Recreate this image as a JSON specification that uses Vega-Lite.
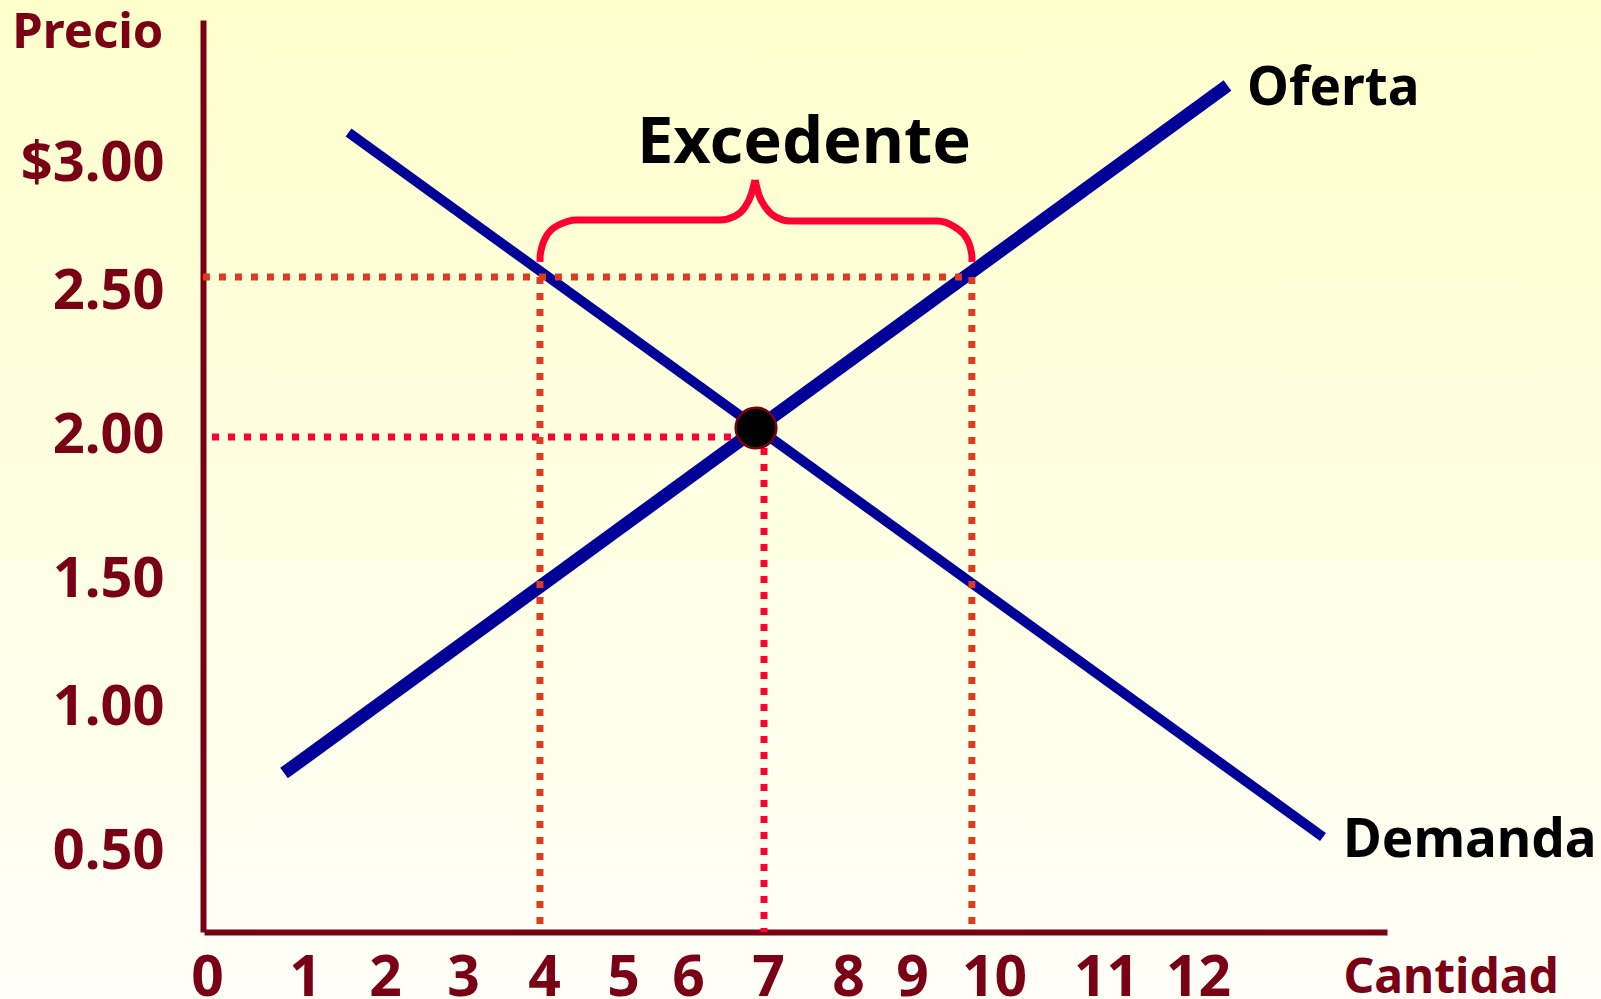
{
  "$schema": "https://vega.github.io/schema/vega-lite/v6.json",
  "width": 1601,
  "height": 999,
  "padding": 0,
  "autosize": {"type": "none"},
  "background": "#ffffe6",
  "view": {
    "stroke": null,
    "fill": {
      "gradient": "linear",
      "x1": 0, "y1": 0, "x2": 0, "y2": 1,
      "stops": [
        {"offset": 0, "color": "#ffffcc"},
        {"offset": 1, "color": "#fffff8"}
      ]
    }
  },
  "datasets": {
    "curvas": [
      {"curva": "Oferta", "q": 0.786, "p": 0.76},
      {"curva": "Oferta", "q": 12.317, "p": 3.266},
      {"curva": "Demanda", "q": 1.544, "p": 3.098},
      {"curva": "Demanda", "q": 13.344, "p": 0.538}
    ],
    "guias": [
      {"tipo": "excedente", "q": -0.041, "q2": 9.62, "p": 2.543, "p2": 2.543},
      {"tipo": "equilibrio", "q": 0.051, "q2": 6.85, "p": 1.983, "p2": 1.983},
      {"tipo": "excedente", "q": 3.95, "q2": 3.95, "p": 2.543, "p2": 0},
      {"tipo": "equilibrio", "q": 6.95, "q2": 6.95, "p": 2.0, "p2": 0},
      {"tipo": "excedente", "q": 9.73, "q2": 9.73, "p": 2.543, "p2": 0}
    ],
    "llave": [
      {"lado": "a", "n": 1, "q": 3.951, "p": 2.602},
      {"lado": "a", "n": 2, "q": 3.953, "p": 2.628},
      {"lado": "a", "n": 3, "q": 4.013, "p": 2.693},
      {"lado": "a", "n": 4, "q": 4.184, "p": 2.746},
      {"lado": "a", "n": 5, "q": 4.418, "p": 2.766},
      {"lado": "a", "n": 6, "q": 6.4, "p": 2.766},
      {"lado": "a", "n": 7, "q": 6.5875, "p": 2.781},
      {"lado": "a", "n": 8, "q": 6.7125, "p": 2.816},
      {"lado": "a", "n": 9, "q": 6.7875, "p": 2.863},
      {"lado": "a", "n": 10, "q": 6.8375, "p": 2.922},
      {"lado": "b", "n": 1, "q": 6.8375, "p": 2.922},
      {"lado": "b", "n": 2, "q": 6.8875, "p": 2.863},
      {"lado": "b", "n": 3, "q": 6.975, "p": 2.8125},
      {"lado": "b", "n": 4, "q": 7.1, "p": 2.777},
      {"lado": "b", "n": 5, "q": 7.275, "p": 2.762},
      {"lado": "b", "n": 6, "q": 9.305, "p": 2.762},
      {"lado": "b", "n": 7, "q": 9.518, "p": 2.739},
      {"lado": "b", "n": 8, "q": 9.674, "p": 2.689},
      {"lado": "b", "n": 9, "q": 9.73, "p": 2.628},
      {"lado": "b", "n": 10, "q": 9.732, "p": 2.602}
    ],
    "etiquetas": [
      {"texto": "Oferta", "q": 12.527, "p": 3.196},
      {"texto": "Demanda", "q": 13.559, "p": 0.446}
    ],
    "titulo": [
      {"texto": "Excedente", "q": 7.45, "p": 2.988}
    ],
    "equilibrio": [
      {"q": 6.85, "p": 2.014}
    ]
  },
  "encoding": {
    "x": {
      "field": "q",
      "type": "quantitative",
      "scale": {
        "domain": [0, 1, 2, 3, 4, 5, 6, 7, 8, 9, 10, 11, 12, 14],
        "range": [207, 305, 385, 463, 544, 623, 688, 768, 848, 912, 994, 1106, 1198, 1384],
        "nice": false,
        "zero": false
      },
      "axis": {
        "orient": "bottom",
        "offset": -67,
        "values": [0, 1, 2, 3, 4, 5, 6, 7, 8, 9, 10, 11, 12],
        "format": "d",
        "grid": false,
        "ticks": false,
        "tickSize": 0,
        "domainColor": "#7a0016",
        "domainWidth": 6,
        "domainCap": "square",
        "labelFont": "Noto Sans",
        "labelFontWeight": "bold",
        "labelFontSize": 57,
        "labelColor": "#7a0016",
        "labelAlign": "center",
        "labelBaseline": "alphabetic",
        "labelPadding": 63,
        "labelFlush": false,
        "labelOverlap": false,
        "labelBound": false,
        "title": "Cantidad",
        "titleFont": "Noto Sans",
        "titleFontWeight": "bold",
        "titleFontSize": 48,
        "titleColor": "#7a0016",
        "titleAlign": "left",
        "titleBaseline": "alphabetic",
        "titleAnchor": null,
        "titleX": 1343,
        "titleY": 60
      }
    },
    "y": {
      "field": "p",
      "type": "quantitative",
      "scale": {
        "domain": [0, 0.5, 1, 1.5, 2, 2.5, 3, 3.5],
        "range": [932, 848, 704, 576, 432, 288, 160, 20],
        "nice": false,
        "zero": false
      },
      "axis": {
        "orient": "left",
        "offset": -203,
        "values": [0.5, 1, 1.5, 2, 2.5, 3],
        "labelExpr": "datum.value == 3 ? '$3.00' : format(datum.value, '.2f')",
        "grid": false,
        "ticks": false,
        "tickSize": 0,
        "domainColor": "#7a0016",
        "domainWidth": 6,
        "domainCap": "butt",
        "labelFont": "Noto Sans",
        "labelFontWeight": "bold",
        "labelFontSize": 56,
        "labelColor": "#7a0016",
        "labelAlign": "right",
        "labelBaseline": "middle",
        "labelOffset": 3,
        "labelPadding": 39,
        "labelFlush": false,
        "labelOverlap": false,
        "labelBound": false,
        "title": "Precio",
        "titleFont": "Noto Sans",
        "titleFontWeight": "bold",
        "titleFontSize": 49,
        "titleColor": "#7a0016",
        "titleAngle": 0,
        "titleAlign": "right",
        "titleBaseline": "alphabetic",
        "titleAnchor": null,
        "titleX": -40,
        "titleY": 47
      }
    }
  },
  "layer": [
    {
      "data": {"name": "curvas"},
      "transform": [{"filter": "datum.curva == 'Demanda'"}],
      "mark": {"type": "line", "color": "#000099", "strokeWidth": 10, "strokeCap": "butt"},
      "encoding": {"detail": {"field": "curva"}}
    },
    {
      "data": {"name": "curvas"},
      "transform": [{"filter": "datum.curva == 'Oferta'"}],
      "mark": {"type": "line", "color": "#000099", "strokeWidth": 13, "strokeCap": "butt"},
      "encoding": {"detail": {"field": "curva"}}
    },
    {
      "data": {"name": "guias"},
      "mark": {"type": "rule", "strokeWidth": 7, "strokeDash": [7, 9], "strokeCap": "butt"},
      "encoding": {
        "x2": {"field": "q2"},
        "y2": {"field": "p2"},
        "color": {
          "field": "tipo",
          "type": "nominal",
          "scale": {"domain": ["excedente", "equilibrio"], "range": ["#df3b1f", "#ff0033"]},
          "legend": null
        }
      }
    },
    {
      "data": {"name": "llave"},
      "mark": {"type": "line", "color": "#ff0033", "strokeWidth": 7, "interpolate": "monotone", "strokeCap": "butt", "strokeJoin": "round"},
      "encoding": {
        "detail": {"field": "lado"},
        "order": {"field": "n", "type": "quantitative"}
      }
    },
    {
      "data": {"name": "etiquetas"},
      "mark": {"type": "text", "font": "Noto Sans", "fontWeight": "bold", "fontSize": 53, "color": "#000000", "align": "left", "baseline": "alphabetic"},
      "encoding": {"text": {"field": "texto"}}
    },
    {
      "data": {"name": "titulo"},
      "mark": {"type": "text", "font": "Noto Sans", "fontWeight": "bold", "fontSize": 65, "color": "#000000", "align": "center", "baseline": "alphabetic"},
      "encoding": {"text": {"field": "texto"}}
    },
    {
      "data": {"name": "equilibrio"},
      "mark": {"type": "circle", "size": 1650, "opacity": 1, "fill": "#000000", "stroke": "#7a0016", "strokeWidth": 2.5},
      "encoding": {}
    }
  ]
}
